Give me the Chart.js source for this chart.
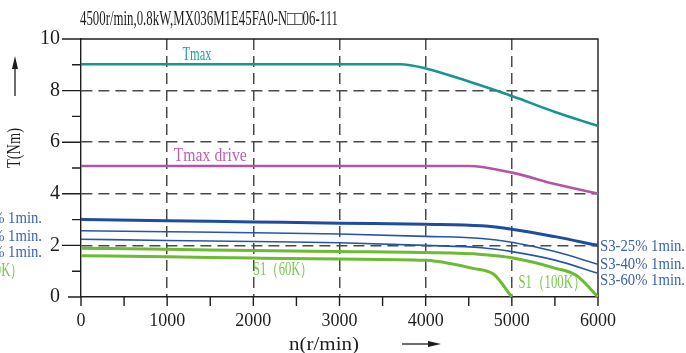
<!DOCTYPE html>
<html>
<head>
<meta charset="utf-8">
<script src="https://cdn.jsdelivr.net/npm/chart.js@4.4.1/dist/chart.umd.min.js"></script>
<style>
  html, body { margin: 0; padding: 0; background: #fff; }
  canvas { display: block; }
</style>
</head>
<body>
<canvas id="curveChart" width="686" height="353"></canvas>
<script>
// Torque / speed curves
const rpmTicks = [0, 1000, 2000, 3000, 4000, 5000, 6000];
const torqueTicks = [0, 2, 4, 6, 8, 10];

const tmaxRpm = [0, 3700, 4000, 4500, 5000, 5500, 6000];
const tmaxNm = [9.02, 9.02, 8.86, 8.35, 7.79, 7.17, 6.63];

const driveRpm = [0, 4500, 5000, 5500, 6000];
const driveNm = [5.08, 5.08, 4.82, 4.38, 4.0];

const s3Rpm = [0, 1000, 2000, 3000, 4000, 4650, 5000, 5500, 6000];
const s3p25Nm = [3.01, 2.96, 2.91, 2.86, 2.82, 2.76, 2.63, 2.34, 2.0];
const s3p40Nm = [2.57, 2.53, 2.49, 2.44, 2.35, 2.27, 2.12, 1.76, 1.27];
const s3p60Nm = [2.24, 2.19, 2.15, 2.10, 2.00, 1.91, 1.76, 1.43, 0.92];

const s1HotRpm = [0, 1000, 2000, 3000, 4000, 4650, 5000, 5500, 5750, 6000];
const s1HotNm = [1.89, 1.85, 1.80, 1.76, 1.72, 1.65, 1.52, 1.12, 0.83, 0];

const s1ColdRpm = [0, 1000, 2000, 3000, 4000, 4280, 4550, 4790, 5000];
const s1ColdNm = [1.60, 1.56, 1.51, 1.47, 1.42, 1.30, 1.11, 0.88, 0];

const titleText = '4500r/min,0.8kW,MX036M1E45FA0-N\u25A1\u25A106-111';

const SERIF = '"Liberation Serif", "DejaVu Serif", serif';
const INK = '#1e1e1e';

function points(xs, ys) {
  return xs.map((x, i) => ({ x: x, y: ys[i] }));
}

function curve(label, xs, ys, color, width) {
  return {
    label: label,
    data: points(xs, ys),
    borderColor: color,
    borderWidth: width,
    pointRadius: 0,
    fill: false,
    cubicInterpolationMode: 'monotone'
  };
}

// draws text squeezed/stretched horizontally to a given width
function fitText(ctx, text, x, y, width, size, color, align) {
  ctx.save();
  ctx.font = size + 'px ' + SERIF;
  ctx.fillStyle = color;
  ctx.textBaseline = 'middle';
  ctx.textAlign = 'left';
  const natural = ctx.measureText(text).width;
  let left = x;
  if (align === 'right') left = x - width;
  if (align === 'center') left = x - width / 2;
  ctx.translate(left, y);
  ctx.scale(width / natural, 1);
  ctx.fillText(text, 0, 0);
  ctx.restore();
}

function arrow(ctx, x1, y1, x2, y2) {
  const ang = Math.atan2(y2 - y1, x2 - x1);
  ctx.save();
  ctx.strokeStyle = INK;
  ctx.fillStyle = INK;
  ctx.lineWidth = 1.3;
  ctx.beginPath();
  ctx.moveTo(x1, y1);
  ctx.lineTo(x2 - 8 * Math.cos(ang), y2 - 8 * Math.sin(ang));
  ctx.stroke();
  ctx.translate(x2, y2);
  ctx.rotate(ang);
  ctx.beginPath();
  ctx.moveTo(0, 0);
  ctx.lineTo(-13, -3);
  ctx.lineTo(-13, 3);
  ctx.closePath();
  ctx.fill();
  ctx.restore();
}

// frame, tick marks and axis titles
const framePlugin = {
  id: 'frame',
  beforeDatasetsDraw(chart) {
    const { ctx, chartArea: a, scales } = chart;
    const xs = scales.x, ys = scales.y;
    ctx.save();
    ctx.strokeStyle = INK;
    ctx.lineWidth = 1.4;
    ctx.beginPath();
    // top + right border
    ctx.moveTo(a.left, a.top);
    ctx.lineTo(a.right, a.top);
    ctx.lineTo(a.right, a.bottom);
    // y ticks
    for (let v = 0; v <= 10; v++) {
      const py = ys.getPixelForValue(v);
      let len = v % 2 === 0 ? 19 : 9;
      if (v === 0) len = 13;
      ctx.moveTo(a.left - len, py);
      ctx.lineTo(a.left, py);
    }
    // x ticks
    for (let v = 0; v <= 6000; v += 500) {
      const px = xs.getPixelForValue(v);
      ctx.moveTo(px, a.bottom);
      ctx.lineTo(px, a.bottom + 9);
    }
    ctx.stroke();
    ctx.restore();

    fitText(ctx, titleText, 80, 20, 258, 20, INK, 'left');
    fitText(ctx, 'n(r/min)', 324, 345, 70, 18, INK, 'center');
    arrow(ctx, 402, 344, 441, 344);

    ctx.save();
    ctx.translate(15, 148);
    ctx.rotate(-Math.PI / 2);
    fitText(ctx, 'T(Nm)', 0, 0, 40, 18, INK, 'center');
    ctx.restore();
    arrow(ctx, 15, 96, 15, 56);
  },
  afterDatasetsDraw(chart) {
    const { ctx, scales } = chart;
    const px = v => scales.x.getPixelForValue(v);
    const py = v => scales.y.getPixelForValue(v);
    const blue = '#3a63b4', green = '#7cc452';

    fitText(ctx, 'Tmax', px(1346), py(9.36), 29, 18, '#25a29c', 'center');
    fitText(ctx, 'Tmax drive', px(1500), py(5.47), 73, 18, '#bb62b2', 'center');
    fitText(ctx, 'S1\uFF0860K\uFF09', px(2344), py(1.03), 60, 18, green, 'center');
    fitText(ctx, 'S1\uFF08100K\uFF09', px(5466), py(0.54), 67, 18, green, 'center');

    fitText(ctx, 'S3-25% 1min.', 600, 247, 85, 17, blue, 'left');
    fitText(ctx, 'S3-40% 1min.', 600, 265, 85, 17, blue, 'left');
    fitText(ctx, 'S3-60% 1min.', 600, 281, 85, 17, blue, 'left');

    // labels of the neighbouring chart, cut by the left edge
    fitText(ctx, 'S3-25% 1min.', 42, 219, 85, 17, blue, 'right');
    fitText(ctx, 'S3-40% 1min.', 42, 237, 85, 17, blue, 'right');
    fitText(ctx, 'S3-60% 1min.', 42, 253, 85, 17, blue, 'right');
    fitText(ctx, 'S1\uFF08100K\uFF09', 23, 271, 67, 18, green, 'right');
  }
};

const dashedGrid = (majors, ends) => ctx =>
  (majors.includes(ctx.tick.value) && !ends.includes(ctx.tick.value)) ? '#4a4a4a' : 'rgba(0,0,0,0)';

new Chart(document.getElementById('curveChart'), {
  type: 'line',
  data: {
    datasets: [
      curve('Tmax', tmaxRpm, tmaxNm, '#15958f', 2.6),
      curve('Tmax drive', driveRpm, driveNm, '#b354a9', 2.6),
      curve('S3-25% 1min.', s3Rpm, s3p25Nm, '#1f4c9e', 3),
      curve('S3-40% 1min.', s3Rpm, s3p40Nm, '#2656aa', 1.6),
      curve('S3-60% 1min.', s3Rpm, s3p60Nm, '#2656aa', 1.6),
      curve('S1 (100K)', s1HotRpm, s1HotNm, '#6cbb33', 3),
      curve('S1 (60K)', s1ColdRpm, s1ColdNm, '#6cbb33', 3)
    ]
  },
  options: {
    responsive: false,
    animation: false,
    devicePixelRatio: 1,
    layout: { padding: { left: 0, top: 39, right: 88, bottom: 0 } },
    plugins: {
      legend: { display: false },
      tooltip: { enabled: false },
      title: { display: false }
    },
    scales: {
      x: {
        type: 'linear',
        min: 0,
        max: 6000,
        afterFit: s => { s.height = 56; },
        ticks: {
          stepSize: 500,
          autoSkip: false,
          maxRotation: 0,
          padding: 13,
          color: INK,
          font: { family: SERIF, size: 18 },
          callback: v => rpmTicks.includes(v) ? String(v) : ''
        },
        grid: {
          drawTicks: false,
          lineWidth: 1.5,
          color: dashedGrid(rpmTicks, [0, 6000])
        },
        border: { display: true, color: INK, width: 1.4, dash: [11, 6] }
      },
      y: {
        min: 0,
        max: 10,
        afterFit: s => { s.width = 81; },
        ticks: {
          stepSize: 1,
          autoSkip: false,
          padding: 21,
          color: INK,
          font: { family: SERIF, size: 20 },
          callback: v => torqueTicks.includes(v) ? String(v) : ''
        },
        grid: {
          drawTicks: false,
          lineWidth: 1.5,
          color: dashedGrid(torqueTicks, [0, 10])
        },
        border: { display: true, color: INK, width: 1.4, dash: [11, 6] }
      }
    }
  },
  plugins: [framePlugin]
});
</script>
</body>
</html>
